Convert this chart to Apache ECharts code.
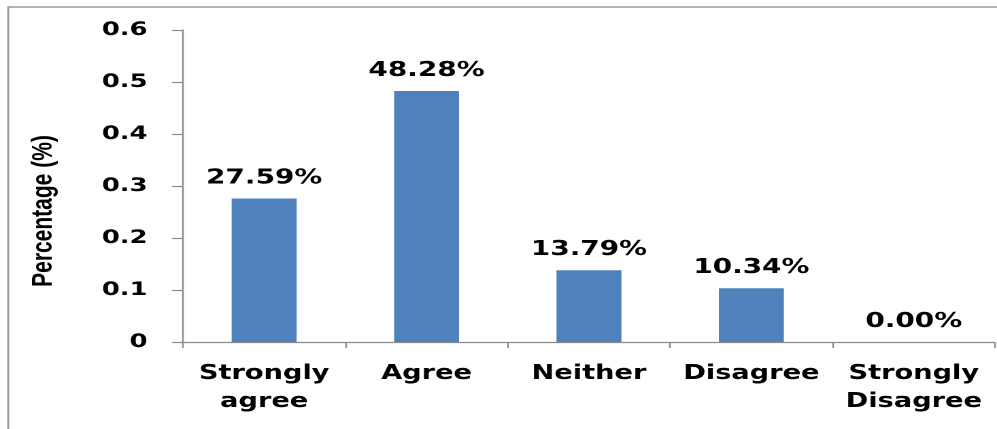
<!DOCTYPE html>
<html>
<head>
<meta charset="utf-8">
<script src="https://cdn.jsdelivr.net/npm/echarts@6/dist/echarts.min.js"></script>
<style>
  html, body { margin: 0; padding: 0; background: #fff; }
  #wrap { width: 997px; height: 429px; overflow: hidden; position: relative; }
  /* the chart is laid out narrower and widened, giving the broad lettering */
  #chart { width: 733px; height: 429px; transform: scaleX(1.3602); transform-origin: 0 0; }
</style>
</head>
<body>
<div id="wrap"><div id="chart"></div></div>
<script>
// Survey responses, share of respondents per answer
const categories = ['Strongly agree', 'Agree', 'Neither', 'Disagree', 'Strongly Disagree'];
const shares = [0.2759, 0.4828, 0.1379, 0.1034, 0];
const yTicks = { min: 0, max: 0.6, interval: 0.1 };
const yTitle = 'Percentage (%)';

const font = 'DejaVu Sans, Verdana, sans-serif';
const axisGray = '#8c8c8c';

const chart = echarts.init(document.getElementById('chart'), null, { renderer: 'canvas', devicePixelRatio: 2 });

chart.setOption({
  animation: false,
  backgroundColor: '#ffffff',
  grid: { left: 134.5, right: 1.5, top: 30, bottom: 87, containLabel: false },
  graphic: [
    {
      type: 'rect',
      shape: { x: 6, y: 7, width: 900, height: 600 },
      style: { fill: 'none', stroke: '#9a9a9a', lineWidth: 1.4 },
      silent: true
    },
    {
      type: 'text',
      x: 32,
      y: 211,
      rotation: Math.PI / 2,
      style: {
        text: yTitle,
        fill: '#000',
        font: 'bold 21px "Liberation Sans", Arial, sans-serif',
        align: 'center',
        verticalAlign: 'middle'
      },
      silent: true
    }
  ],
  xAxis: {
    type: 'category',
    data: categories,
    axisLine: { show: true, lineStyle: { color: axisGray, width: 1.2 } },
    axisTick: { show: true, alignWithLabel: false, length: 6, lineStyle: { color: axisGray, width: 1.2 } },
    axisLabel: {
      interval: 0,
      margin: 18,
      color: '#000',
      fontFamily: font,
      fontWeight: 'bold',
      fontSize: 20,
      lineHeight: 28,
      formatter: v => v.replace(' ', '\n')
    },
    splitLine: { show: false }
  },
  yAxis: {
    type: 'value',
    min: yTicks.min,
    max: yTicks.max,
    interval: yTicks.interval,
    axisLine: { show: true, lineStyle: { color: axisGray, width: 1.2 } },
    axisTick: { show: true, length: 8, lineStyle: { color: axisGray, width: 1.2 } },
    axisLabel: {
      margin: 26,
      color: '#000',
      fontFamily: font,
      fontWeight: 'bold',
      fontSize: 19,
      formatter: v => (v === 0 ? '0' : v.toFixed(1))
    },
    splitLine: { show: false }
  },
  series: [{
    type: 'bar',
    data: shares,
    barWidth: '40%',
    itemStyle: { color: '#4f81bd' },
    label: {
      show: true,
      position: 'top',
      distance: 10,
      color: '#000',
      fontFamily: font,
      fontWeight: 'bold',
      fontSize: 20.5,
      formatter: p => (p.value * 100).toFixed(2) + '%'
    }
  }]
});
</script>
</body>
</html>
